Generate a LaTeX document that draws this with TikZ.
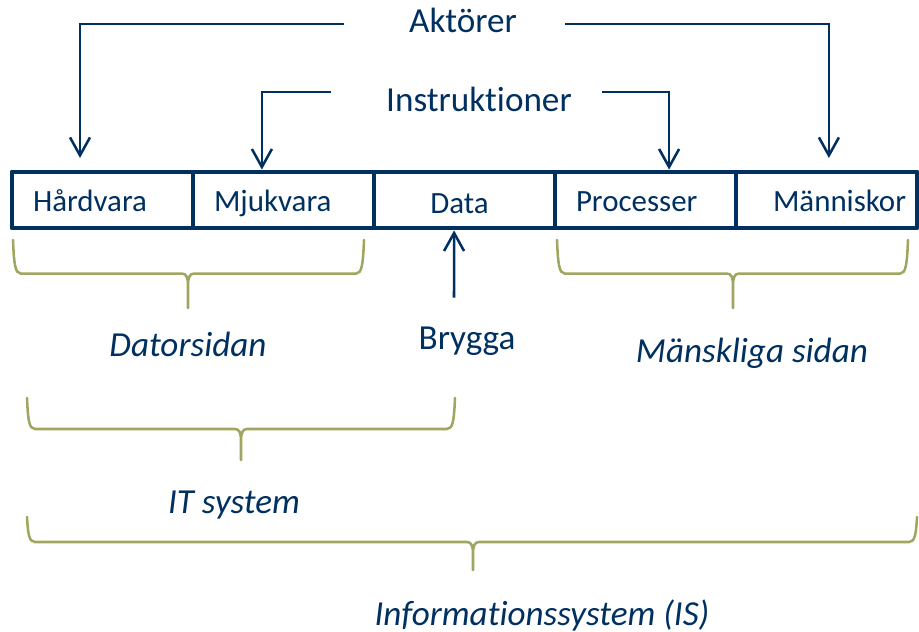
\documentclass[tikz,border=0pt]{standalone}
\usepackage{fontspec}
\setmainfont{Carlito}[Ligatures=NoCommon]
\usetikzlibrary{positioning,arrows.meta}

\definecolor{navy}{RGB}{0,48,96}
\definecolor{olive}{RGB}{160,166,96}

\tikzset{
  part/.style={draw=navy, line width=3.5pt, line join=round, text=navy,
    minimum width=4.525cm, minimum height=1.4cm, outer sep=0pt,
    inner xsep=0.525cm, inner ysep=0pt, text width=3.475cm, align=left,
    text height=0.75cm, text depth=0.15cm,
    font=\fontsize{22}{26}\selectfont},
  lbl/.style={text=navy, inner sep=0pt, anchor=base,
    font=\fontsize{25}{30}\selectfont},
  side/.style={lbl, font=\fontsize{25}{30}\selectfont\itshape},
  link/.style={draw=navy, line width=1.8pt,
    -{Straight Barb[length=0.45cm,width=0.5cm]}},
  curly/.style={draw=olive, line width=1.8pt, line cap=round},
}

\begin{document}
\begin{tikzpicture}

\useasboundingbox (0,0) rectangle (22.975,-15.8);

% the five parts
\node[part] (hw) at (2.5625,-5) {Hårdvara};
\node[part, right=0pt of hw] (sw) {Mjukvara};
\node[part, right=0pt of sw, align=center] (data) {\raisebox{-0.05cm}{Data}\hspace*{0.25cm}};
\node[part, right=0pt of data] (proc) {Processer};
\node[part, right=0pt of proc, inner xsep=0pt, text width=4.525cm] (ppl) {\hspace*{0.925cm}Människor};

\node[lbl] (akt) at (11.575,-0.825) {Aktörer};
\node[lbl] (ins) at (11.975,-2.8) {Instruktioner};
\node[lbl] (bry) at (11.675,-8.75) {Brygga};

\draw[link] ([xshift=-1.625cm,yshift=-0.08cm]akt.west) -| ([xshift=-0.5625cm,yshift=0.35cm]hw.north);
\draw[link] ([xshift=1.2cm,yshift=-0.08cm]akt.east) -| ([xshift=0.06cm,yshift=0.35cm]ppl.north);
\draw[link] ([xshift=-1.375cm,yshift=0.2cm]ins.west) -| ([xshift=-0.54cm,yshift=0.06cm]sw.north);
\draw[link] ([xshift=0.75cm,yshift=0.2cm]ins.east) -| ([xshift=0.59cm,yshift=0.06cm]proc.north);
\draw[link] ([xshift=-0.325cm,yshift=0.74cm]bry.north) -- ([xshift=-0.26cm,yshift=-0.06cm]data.south);

% braces
\draw[curly] (0.325,-6) .. controls (0.35,-6.6) and (0.375,-6.84) .. (0.525,-6.84)
  -- (4.55,-6.84) .. controls (4.66,-6.84) and (4.7,-6.94) .. (4.7,-7.14) -- (4.7,-7.7)
  (4.7,-7.14) .. controls (4.7,-6.94) and (4.74,-6.84) .. (4.85,-6.84)
  -- (8.9,-6.84) .. controls (9.05,-6.84) and (9.075,-6.6) .. (9.1,-6);
\draw[curly] (13.925,-6) .. controls (13.95,-6.6) and (13.975,-6.84) .. (14.125,-6.84)
  -- (18.175,-6.84) .. controls (18.285,-6.84) and (18.325,-6.94) .. (18.325,-7.14) -- (18.325,-7.7)
  (18.325,-7.14) .. controls (18.325,-6.94) and (18.365,-6.84) .. (18.475,-6.84)
  -- (22.5,-6.84) .. controls (22.65,-6.84) and (22.675,-6.6) .. (22.7,-6);
\draw[curly] (0.675,-9.95) .. controls (0.7,-10.5) and (0.725,-10.725) .. (0.875,-10.725)
  -- (5.875,-10.725) .. controls (5.985,-10.725) and (6.025,-10.825) .. (6.025,-11.025) -- (6.025,-11.5)
  (6.025,-11.025) .. controls (6.025,-10.825) and (6.065,-10.725) .. (6.175,-10.725)
  -- (11.175,-10.725) .. controls (11.325,-10.725) and (11.35,-10.5) .. (11.375,-9.95);
\draw[curly] (0.675,-12.925) .. controls (0.7,-13.35) and (0.725,-13.55) .. (0.875,-13.55)
  -- (11.675,-13.55) .. controls (11.785,-13.55) and (11.825,-13.65) .. (11.825,-13.85) -- (11.825,-14.25)
  (11.825,-13.85) .. controls (11.825,-13.65) and (11.865,-13.55) .. (11.975,-13.55)
  -- (22.725,-13.55) .. controls (22.875,-13.55) and (22.9,-13.35) .. (22.925,-12.925);

\node[side] (dator) at (4.7,-8.925) {Datorsidan};
\node[side] (mansk) at (18.8,-9.075) {Mänskliga sidan};
\node[side] (itsys) at (5.85,-12.825) {IT system};
\node[side] (infsys) at (13.55,-15.625) {Informationssystem (IS)};

\end{tikzpicture}
\end{document}
